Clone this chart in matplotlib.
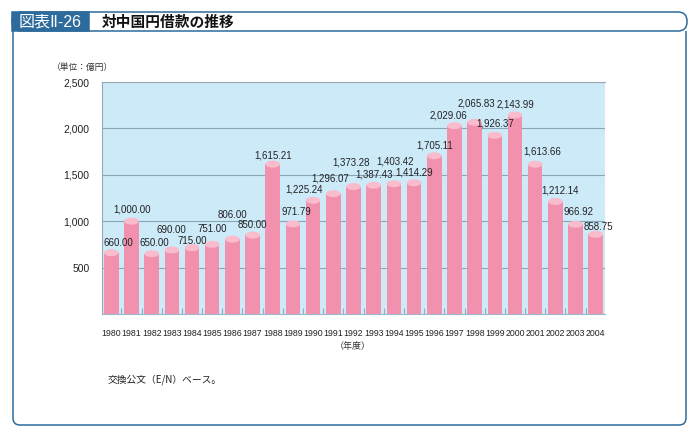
import matplotlib.pyplot as plt
from matplotlib.patches import Ellipse, FancyBboxPatch, Rectangle, PathPatch
from matplotlib.path import Path
from matplotlib.ticker import FixedLocator

# data
years = [str(y) for y in range(1980, 2005)]
values = [660.00, 1000.00, 650.00, 690.00, 715.00, 751.00, 806.00, 850.00,
          1615.21, 971.79, 1225.24, 1296.07, 1373.28, 1387.43, 1403.42,
          1414.29, 1705.11, 2029.06, 2065.83, 1926.37, 2143.99, 1613.66,
          1212.14, 966.92, 858.75]
yticks = [500, 1000, 1500, 2000, 2500]

# label placement (pixels from bar top), tuned to avoid overlaps
label_dx = [7, 1, 3, 0, 0, 0, 0, 0, 0, 3, -9.5, -3.5, -2, 0, 1, 0, 0, -6, 2,
            0, 0, 7.5, 5, 3, 3]
label_dy = [9.8, 11.2, 10.7, 20, 6.6, 15.3, 24.2, 10.1, 9.1, 11.8, 10.3, 15.7,
            23.6, 11.2, 21.8, 9.8, 9.8, 10.7, 18.3, 12.2, 11, 12.3, 11.5,
            12.3, 7.3]

BLUE = '#2d6b9c'
BODY = '#f291ad'
TOP = '#f8bccc'
BG = '#cdeaf9'
JP = ['Noto Sans CJK JP', 'DejaVu Sans']
NUM = ['Liberation Sans', 'DejaVu Sans']

fig = plt.figure(figsize=(7, 4.37), dpi=100)

# frame drawn in pixel coordinates
frame = fig.add_axes([0, 0, 1, 1], zorder=0)
frame.set_xlim(0, 700)
frame.set_ylim(437, 0)
frame.axis('off')

verts = [(13, 31), (13, 418), (13, 425), (20, 425), (679, 425),
         (686, 425), (686, 418), (686, 31)]
codes = [Path.MOVETO, Path.LINETO, Path.CURVE3, Path.CURVE3, Path.LINETO,
         Path.CURVE3, Path.CURVE3, Path.LINETO]
frame.add_patch(PathPatch(Path(verts, codes), facecolor='none',
                          edgecolor=BLUE, linewidth=1.1))
frame.add_patch(FancyBboxPatch((12, 12), 675, 19,
                               boxstyle='round,pad=0,rounding_size=9',
                               facecolor='white', edgecolor=BLUE, linewidth=1.1))
frame.add_patch(Rectangle((12, 12), 77, 19, facecolor=BLUE, edgecolor=BLUE,
                          linewidth=1.1))
frame.text(50, 22, '図表Ⅱ-26', color='white', fontsize=11.5,
           family=['Liberation Sans', 'DejaVu Sans', 'Noto Sans CJK JP'],
           ha='center', va='center')
frame.text(102, 22, '対中国円借款の推移', color='#111111', fontsize=10.6,
           family=JP, fontweight='bold', ha='left', va='center')
frame.text(52, 67, '（単位：億円）', fontsize=6.3, family=JP, color='#333333',
           ha='left', va='center')
frame.text(353, 347, '（年度）', fontsize=6.5, family=JP, color='#333333',
           ha='center', va='center')
frame.text(108, 380, '交換公文（E/N）ベース。', fontsize=7, family=JP,
           color='#222222', ha='left', va='center')

# chart
ax = fig.add_axes([102 / 700, 1 - 314 / 437, 503 / 700, 232 / 437], zorder=1)
ax.set_facecolor(BG)
x = list(range(len(years)))
ax.bar(x, values, width=0.72, color=BODY, zorder=2)
for i, v in enumerate(values):
    ax.add_patch(Ellipse((i, v), 0.72, 75, facecolor=TOP, edgecolor='none',
                         zorder=3))
    ax.annotate(f'{v:,.2f}', xy=(i, v), xytext=(label_dx[i], label_dy[i]),
                textcoords='offset pixels', ha='center', va='center',
                fontsize=7, family=NUM, color='#222222', zorder=4)

ax.set_xlim(-0.46, 24.46)
ax.set_ylim(0, 2500)
ax.set_yticks(yticks)
ax.set_yticklabels([f'{t:,}' for t in yticks], family=NUM, fontsize=7.5,
                   color='#222222')
ax.set_xticks(x)
ax.set_xticklabels(years, family=NUM, fontsize=6.3, color='#222222')
ax.tick_params(axis='both', which='major', length=0)
ax.tick_params(axis='y', pad=9)
ax.tick_params(axis='x', pad=11)
ax.xaxis.set_minor_locator(FixedLocator([i + 0.5 for i in x]))
ax.tick_params(axis='x', which='minor', direction='in', length=4,
               color='#8fb0c4', width=0.8)
ax.grid(axis='y', color='#8aa5b6', linewidth=0.8, zorder=1)
ax.set_axisbelow(True)
for side in ['top', 'left', 'right']:
    ax.spines[side].set_color('#9aa7b0')
    ax.spines[side].set_linewidth(0.8)
ax.spines['right'].set_visible(False)
ax.spines['bottom'].set_color('#9ab8cc')
ax.spines['bottom'].set_linewidth(0.8)

fig.savefig('out.png', dpi=100, facecolor='white')
